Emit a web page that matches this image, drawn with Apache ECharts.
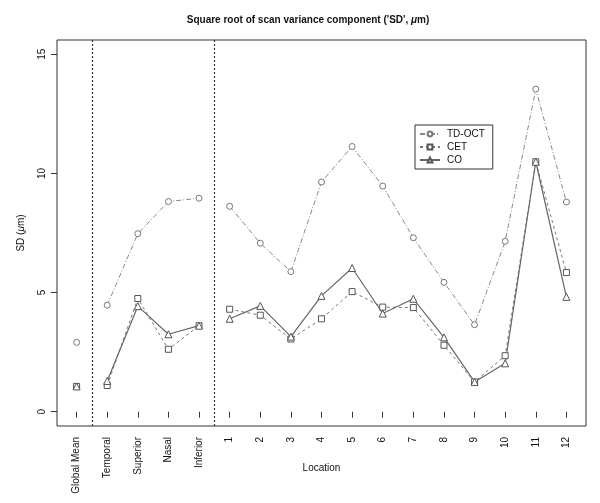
<!DOCTYPE html>
<html>
<head>
<meta charset="utf-8">
<script src="https://cdn.jsdelivr.net/npm/echarts@6/dist/echarts.min.js"></script>
<style>
  html, body { margin: 0; padding: 0; background: #fff; }
  #chart { width: 600px; height: 503px; }
</style>
</head>
<body>
<div id="chart"></div>
<script>
    var categories = ['Global Mean', 'Temporal', 'Superior', 'Nasal', 'Inferior',
        '1', '2', '3', '4', '5', '6', '7', '8', '9', '10', '11', '12']
    var tdOct = [2.91, 4.47, 7.47, 8.82, 8.96, 8.62, 7.07, 5.88, 9.64, 11.13, 9.47, 7.30, 5.43, 3.65, 7.15, 13.54, 8.80]
    var cet   = [1.06, 1.10, 4.75, 2.62, 3.61, 4.30, 4.05, 3.05, 3.90, 5.04, 4.39, 4.37, 2.79, 1.25, 2.35, 10.49, 5.84]
    var co    = [1.06, 1.29, 4.43, 3.25, 3.61, 3.90, 4.44, 3.15, 4.86, 6.03, 4.12, 4.74, 3.12, 1.25, 2.03, 10.49, 4.82]
    // dotted separators between the groups (also where the lines break)
    var groupBreaks = [1.5, 5.5]
    var yTicks = [0, 5, 10, 15]

    var font = 'Liberation Sans, Arial, sans-serif'
    var xPos = categories.map(function (c, i) { return i + 1 })

    function toPairs(vals) {
        var out = []
        vals.forEach(function (v, i) {
            out.push([i + 1, v])
            if (groupBreaks.indexOf(i + 1.5) >= 0) out.push([i + 1.5, '-'])
        })
        return out
    }

    var myChart = echarts.init(document.getElementById('chart'))
    var options = {
        animation: false,
        title: {
            text: "Square root of scan variance component ('SD', {i|\u03bc}m)",
            left: 303,
            top: 10,
            textAlign: 'center',
            textStyle: {
                fontFamily: font, fontSize: 10, fontWeight: 'bold', color: '#111',
                rich: { i: { fontFamily: font, fontSize: 10, fontWeight: 'bold', fontStyle: 'italic', color: '#111' } }
            }
        },
        legend: {
            orient: 'vertical',
            left: 415,
            top: 125,
            padding: [4, 8, 4, 4],
            itemGap: 3,
            itemWidth: 20,
            itemHeight: 6,
            borderColor: '#333',
            borderWidth: 1,
            textStyle: { fontFamily: font, fontSize: 10, color: '#111', padding: [0, 0, 0, 2] },
            data: ['TD-OCT', 'CET', 'CO']
        },
        grid: {
            left: 57, right: 14, top: 40, bottom: 77,
            outerBoundsMode: 'none',
            show: true, borderColor: '#333', borderWidth: 1
        },
        xAxis: {
            type: 'value',
            min: 0.36,
            max: 17.64,
            name: 'Location',
            nameLocation: 'middle',
            nameGap: 37,
            nameMoveOverlap: false,
            nameTextStyle: { fontFamily: font, fontSize: 10, color: '#111' },
            axisLine: { show: false },
            splitLine: { show: false },
            axisTick: { show: true, length: 6, lineStyle: { color: '#333' }, customValues: xPos },
            axisLabel: {
                rotate: 90, margin: 11,
                fontFamily: font, fontSize: 10, color: '#111',
                customValues: xPos,
                formatter: function (v) { return categories[Math.round(v) - 1] }
            }
        },
        yAxis: {
            type: 'value',
            min: -0.6,
            max: 15.6,
            name: 'SD ({i|\u03bc}m)',
            nameLocation: 'middle',
            nameRotate: 90,
            nameGap: 31,
            nameMoveOverlap: false,
            nameTextStyle: {
                fontFamily: font, fontSize: 10, color: '#111',
                rich: { i: { fontFamily: font, fontSize: 10, fontStyle: 'italic', color: '#111' } }
            },
            axisLine: { show: false },
            splitLine: { show: false },
            axisTick: { show: true, length: 6, lineStyle: { color: '#333' }, customValues: yTicks },
            axisLabel: {
                rotate: 90, margin: 10, align: 'center', verticalAlign: 'bottom',
                fontFamily: font, fontSize: 10, color: '#111',
                customValues: yTicks
            }
        },
        series: [
            {
                name: 'TD-OCT',
                type: 'line',
                symbol: 'circle',
                symbolSize: 6,
                itemStyle: { color: '#fff', borderColor: '#777', borderWidth: 1 },
                lineStyle: { color: '#888', width: 1, type: [5, 2, 1, 2] },
                data: toPairs(tdOct),
                markLine: {
                    silent: true,
                    symbol: 'none',
                    label: { show: false },
                    lineStyle: { color: '#333', width: 1.2, type: [2, 2] },
                    data: groupBreaks.map(function (b) { return { xAxis: b } })
                }
            },
            {
                name: 'CET',
                type: 'line',
                symbol: 'rect',
                symbolSize: 6,
                itemStyle: { color: '#fff', borderColor: '#555', borderWidth: 1 },
                lineStyle: { color: '#777', width: 1, type: [3, 3] },
                data: toPairs(cet)
            },
            {
                name: 'CO',
                type: 'line',
                symbol: 'triangle',
                symbolSize: 7,
                itemStyle: { color: '#fff', borderColor: '#555', borderWidth: 1 },
                lineStyle: { color: '#666', width: 1.2 },
                data: toPairs(co)
            }
        ]
    }
    myChart.setOption(options)
</script>
</body>
</html>
